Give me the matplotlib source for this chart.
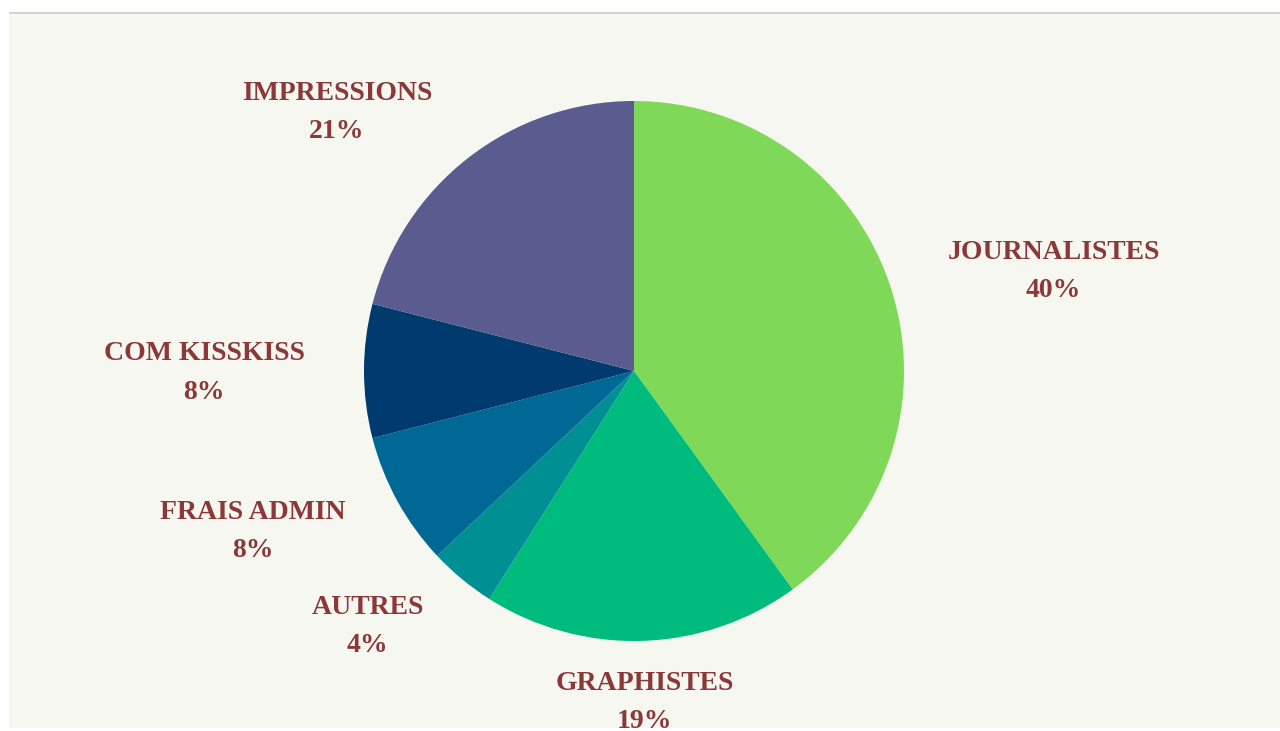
import numpy as np
import matplotlib.pyplot as plt
from matplotlib.patches import Rectangle

labels = ["JOURNALISTES", "GRAPHISTES", "AUTRES", "FRAIS ADMIN", "COM KISSKISS", "IMPRESSIONS"]
values = [40, 19, 4, 8, 8, 21]
colors = ["#7fd858", "#00bb7e", "#009093", "#006894", "#003a6e", "#5a5b8f"]

text_color = "#8b3838"
bg = "#f7f7f2"

fig = plt.figure(figsize=(12.8, 7.31), dpi=100)
fig.patch.set_facecolor("white")

# card background + top rule
fig.add_artist(Rectangle((9 / 1280, 3 / 731), 1, 715 / 731, transform=fig.transFigure,
                         facecolor=bg, edgecolor="none", zorder=0))
fig.add_artist(Rectangle((9 / 1280, 717 / 731), 1, 2 / 731, transform=fig.transFigure,
                         facecolor="#d3d3d3", edgecolor="none", zorder=1))

ax = fig.add_axes([0, 0, 1, 1])

cx, cy, r = 634, 360, 270
wedges, _ = ax.pie(values, colors=colors, startangle=90, counterclock=False,
                   center=(cx, cy), radius=r, frame=True,
                   wedgeprops={"linewidth": 0})
ax.set_xlim(0, 1280)
ax.set_ylim(0, 731)
ax.set_aspect("equal")
ax.axis("off")

total = sum(values)
for w, lab, v in zip(wedges, labels, values):
    mid = np.deg2rad((w.theta1 + w.theta2) / 2)
    x = cx + 1.22 * r * np.cos(mid)
    y = cy + 1.22 * r * np.sin(mid) - 2
    c = np.cos(mid)
    ha = "left" if c > 0.1 else ("right" if c < -0.1 else "center")
    ax.text(x, y, f"{lab}\n{round(v / total * 100)}%", ha=ha, va="center",
            multialignment="center", color=text_color, fontsize=20,
            fontweight="bold", family="Liberation Serif", linespacing=1.7)

fig.savefig("out.png", dpi=100, facecolor=fig.get_facecolor())
